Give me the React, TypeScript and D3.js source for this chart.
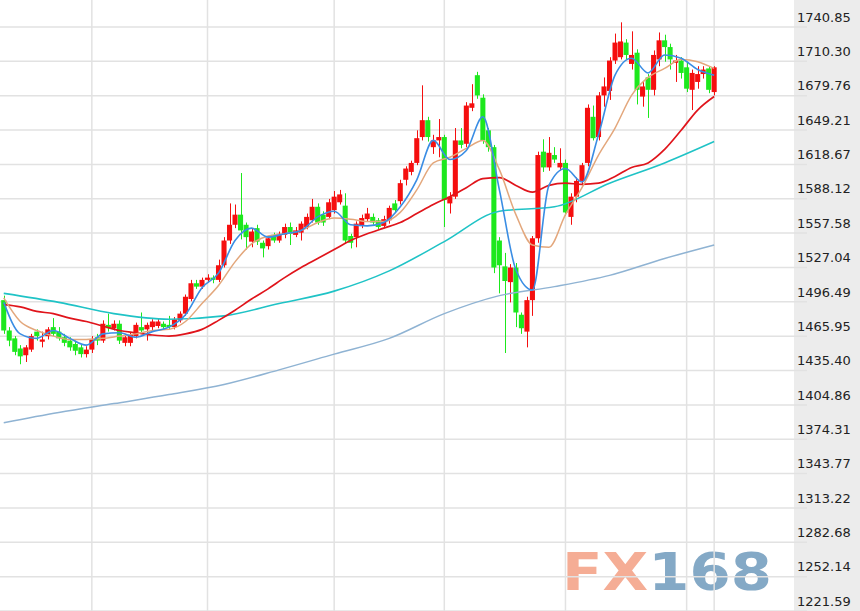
import { useEffect, useRef } from "react"
import * as d3 from "d3"

const W = 860
const H = 611

// right axis tick labels (top to bottom)
const tickLabels = [
  "1740.85", "1710.30", "1679.76", "1649.21", "1618.67", "1588.12", "1557.58", "1527.04", "1496.49",
  "1465.95", "1435.40", "1404.86", "1374.31", "1343.77", "1313.22", "1282.68", "1252.14", "1221.59",
]

// daily candles, oldest first
const opens = [
  1498, 1471, 1464, 1455, 1449, 1454, 1470, 1461, 1466, 1474,
  1470, 1465, 1462, 1459, 1456, 1450, 1454, 1465, 1462, 1476,
  1473, 1477, 1460, 1460, 1466, 1474, 1472, 1474, 1475, 1477,
  1476, 1474, 1480, 1486, 1499, 1513, 1510, 1516, 1518, 1516,
  1529, 1551, 1565, 1574, 1565, 1550, 1562, 1549, 1546, 1556,
  1551, 1556, 1563, 1556, 1558, 1563, 1569, 1581, 1574, 1572,
  1578, 1585, 1582, 1555, 1554, 1564, 1570, 1572, 1569, 1564,
  1569, 1584, 1586, 1605, 1612, 1620, 1643, 1658, 1634, 1640,
  1643, 1584, 1590, 1640, 1637, 1669, 1698, 1678, 1649, 1634,
  1551, 1528, 1514, 1527, 1485, 1470, 1498, 1553, 1630, 1616,
  1627, 1616, 1620, 1572, 1590, 1604, 1620, 1661, 1643, 1680,
  1684, 1711, 1714, 1727, 1708, 1718, 1679, 1696, 1685, 1712,
  1729, 1723, 1709, 1711, 1705, 1685, 1692, 1699, 1704, 1683,
]
const highs = [
  1502, 1474, 1466, 1458, 1458, 1468, 1472, 1470, 1474, 1482,
  1474, 1468, 1465, 1462, 1459, 1457, 1466, 1468, 1480, 1486,
  1480, 1480, 1468, 1469, 1478, 1487, 1478, 1481, 1482, 1479,
  1484, 1483, 1488, 1503, 1516, 1516, 1518, 1521, 1520, 1534,
  1554, 1584, 1583, 1611, 1567, 1562, 1565, 1551, 1555, 1558,
  1559, 1566, 1567, 1563, 1568, 1575, 1588, 1584, 1577, 1588,
  1595, 1596, 1593, 1557, 1568, 1574, 1580, 1575, 1571, 1573,
  1582, 1587, 1605, 1617, 1622, 1649, 1689, 1661, 1645, 1659,
  1645, 1594, 1651, 1651, 1674, 1690, 1701, 1681, 1651, 1636,
  1554, 1540, 1530, 1531, 1487, 1501, 1555, 1630, 1641, 1643,
  1634, 1633, 1623, 1593, 1607, 1620, 1672, 1671, 1683, 1696,
  1714, 1735, 1745, 1730, 1737, 1721, 1692, 1699, 1720, 1736,
  1734, 1726, 1716, 1714, 1710, 1703, 1706, 1706, 1706, 1706,
]
const lows = [
  1468, 1457, 1449, 1441, 1443, 1452, 1462, 1456, 1463, 1466,
  1462, 1457, 1453, 1449, 1447, 1447, 1451, 1458, 1460, 1470,
  1471, 1459, 1457, 1457, 1464, 1469, 1462, 1471, 1473, 1472,
  1472, 1472, 1478, 1484, 1497, 1508, 1508, 1514, 1513, 1514,
  1527, 1548, 1562, 1552, 1543, 1545, 1547, 1536, 1543, 1549,
  1549, 1553, 1547, 1554, 1551, 1561, 1567, 1565, 1564, 1570,
  1575, 1583, 1548, 1544, 1545, 1562, 1568, 1565, 1561, 1562,
  1566, 1576, 1583, 1600, 1609, 1618, 1640, 1639, 1628, 1625,
  1563, 1575, 1588, 1633, 1634, 1666, 1677, 1637, 1630, 1522,
  1504, 1451, 1496, 1474, 1468, 1456, 1484, 1549, 1612, 1613,
  1620, 1613, 1573, 1565, 1585, 1600, 1617, 1640, 1640, 1670,
  1676, 1708, 1712, 1712, 1703, 1672, 1670, 1660, 1680, 1706,
  1710, 1703, 1692, 1695, 1683, 1667, 1686, 1695, 1682, 1680,
]
const closes = [
  1471, 1462, 1452, 1448, 1456, 1466, 1466, 1463, 1472, 1468,
  1464, 1460, 1456, 1453, 1450, 1454, 1463, 1462, 1477, 1473,
  1477, 1462, 1465, 1467, 1476, 1471, 1476, 1479, 1479, 1474,
  1474, 1481, 1486, 1501, 1513, 1510, 1516, 1518, 1516, 1529,
  1551, 1565, 1574, 1560, 1554, 1559, 1550, 1544, 1553, 1551,
  1557, 1563, 1557, 1560, 1566, 1572, 1581, 1567, 1567, 1585,
  1590, 1592, 1551, 1549, 1566, 1571, 1575, 1567, 1563, 1570,
  1580, 1578, 1602, 1615, 1620, 1642, 1658, 1643, 1640, 1643,
  1587, 1590, 1640, 1636, 1671, 1673, 1680, 1640, 1634, 1527,
  1529, 1515, 1527, 1487, 1473, 1498, 1553, 1627, 1616, 1629,
  1623, 1620, 1576, 1590, 1604, 1618, 1669, 1642, 1680, 1688,
  1711, 1727, 1728, 1716, 1716, 1685, 1688, 1685, 1716, 1729,
  1723, 1712, 1711, 1700, 1686, 1700, 1699, 1703, 1685, 1705,
]

// moving averages, one value every 3 candles
const maShortStep = 3
const ma5 = [
  1496, 1468, 1464, 1471, 1464, 1458, 1468, 1469, 1465, 1470, 1474, 1485, 1509, 1522, 1551,
  1562, 1554, 1557, 1560, 1572, 1577, 1565, 1564, 1567, 1581, 1605, 1640, 1623, 1631, 1661,
  1596, 1525, 1507, 1600, 1615, 1603, 1645, 1698, 1713, 1700, 1716, 1713, 1703, 1698,
]
const ma10 = [
  1500, 1479, 1471, 1466, 1463, 1463, 1464, 1466, 1468, 1471, 1472, 1479, 1495, 1511, 1532,
  1548, 1555, 1557, 1560, 1567, 1571, 1570, 1568, 1568, 1576, 1596, 1620, 1625, 1633, 1640,
  1614, 1574, 1547, 1545, 1574, 1598, 1627, 1651, 1680, 1696, 1704, 1712, 1710, 1704,
]
const ma20 = [
  1494, 1492, 1488, 1486, 1482, 1479, 1475, 1471, 1469, 1467, 1466, 1468, 1472, 1480, 1489,
  1499, 1508, 1518, 1527, 1535, 1543, 1551, 1557, 1562, 1567, 1575, 1583, 1590, 1598, 1606,
  1607, 1600, 1594, 1600, 1602, 1601, 1602, 1608, 1616, 1620, 1632, 1649, 1667, 1679,
]
// slower averages, read at these candle indices
const maLongIdx = [0, 10, 20, 30, 40, 50, 60, 70, 80, 90, 100, 110, 120, 129]
const ma60 = [1504, 1496, 1486, 1481, 1484, 1495, 1506, 1524, 1550, 1577, 1581, 1602, 1620, 1639]
const ma120 = [1389, 1398, 1406, 1414, 1423, 1436, 1450, 1464, 1486, 1502, 1510, 1520, 1535, 1547]

// candle indices where the vertical grid lines fall (month starts)
const gridIdx = [16, 37, 60, 80, 102, 124, 129]

const UP = "#f50f0f"
const DOWN = "#1de81d"

export default function App() {
  const svgRef = useRef<SVGSVGElement>(null)

  useEffect(() => {
    document.body.style.margin = "0"
    const svg = d3.select(svgRef.current)
    svg.selectAll("*").remove()

    const plotRight = 794
    const ticks = tickLabels.map(Number)

    const x = d3
      .scaleBand<number>()
      .domain(d3.range(closes.length))
      .range([1.2, 716.7])
      .paddingInner(0.08)
    const cx = (i: number) => x(i)! + x.bandwidth() / 2

    const y = d3
      .scaleLinear()
      .domain([d3.min(ticks)!, d3.max(ticks)!])
      .range([H, 27])

    svg.append("rect").attr("width", W).attr("height", H).attr("fill", "#fff")

    // watermark, wide and squat
    const wm = svg
      .append("text")
      .attr("x", 562)
      .attr("y", 590)
      .attr("font-family", "'DejaVu Sans', Verdana, sans-serif")
      .attr("font-weight", "bold")
      .attr("font-size", 51)
      .attr("textLength", 210)
      .attr("lengthAdjust", "spacingAndGlyphs")
    wm.append("tspan").attr("fill", "#f5ad95").text("FX")
    wm.append("tspan").attr("fill", "#84a9c6").text("168")

    // axis panel
    svg
      .append("rect")
      .attr("x", plotRight)
      .attr("y", 0)
      .attr("width", W - plotRight)
      .attr("height", H)
      .attr("fill", "#ececec")

    // grid
    const grid = svg.append("g").attr("stroke", "#e2e2e2").attr("stroke-width", 1.5)
    grid
      .selectAll("line.h")
      .data(ticks)
      .enter()
      .append("line")
      .attr("x1", 0)
      .attr("x2", 807)
      .attr("y1", d => y(d))
      .attr("y2", d => y(d))
    grid
      .selectAll("line.v")
      .data(gridIdx)
      .enter()
      .append("line")
      .attr("x1", d => cx(d))
      .attr("x2", d => cx(d))
      .attr("y1", 0)
      .attr("y2", H)

    // y labels sit just above their grid line
    svg
      .append("g")
      .selectAll("text")
      .data(tickLabels)
      .enter()
      .append("text")
      .attr("x", 797)
      .attr("y", d => y(+d) - 5.3)
      .attr("font-family", "'DejaVu Sans', Verdana, sans-serif")
      .attr("font-size", 13)
      .attr("fill", "#222")
      .text(d => d)

    // candles
    const candles = svg
      .append("g")
      .selectAll("g")
      .data(d3.range(closes.length))
      .enter()
      .append("g")
      .attr("fill", i => (closes[i] >= opens[i] ? UP : DOWN))
      .attr("stroke", i => (closes[i] >= opens[i] ? UP : DOWN))

    candles
      .append("line")
      .attr("x1", i => Math.round(cx(i)) + 0.5)
      .attr("x2", i => Math.round(cx(i)) + 0.5)
      .attr("y1", i => y(highs[i]))
      .attr("y2", i => y(lows[i]))
      .attr("stroke-width", 1)

    candles
      .append("rect")
      .attr("stroke", "none")
      .attr("x", i => x(i)!)
      .attr("width", x.bandwidth())
      .attr("y", i => y(Math.max(opens[i], closes[i])))
      .attr("height", i => Math.max(1, Math.abs(y(opens[i]) - y(closes[i]))))

    // moving averages
    const line = d3
      .line<[number, number]>()
      .x(d => cx(d[0]))
      .y(d => y(d[1]))
      .curve(d3.curveMonotoneX)

    const series: { pts: [number, number][]; color: string; w: number }[] = [
      { pts: ma120.map((v, k) => [maLongIdx[k], v]), color: "#8fb3d3", w: 1.5 },
      { pts: ma60.map((v, k) => [maLongIdx[k], v]), color: "#1fc3c6", w: 1.6 },
      { pts: ma20.map((v, k) => [k * maShortStep, v]), color: "#e0141b", w: 1.7 },
      { pts: ma10.map((v, k) => [k * maShortStep, v]), color: "#e3a77c", w: 1.5 },
      { pts: ma5.map((v, k) => [k * maShortStep, v]), color: "#3a8de4", w: 1.6 },
    ]

    svg
      .append("g")
      .selectAll("path")
      .data(series)
      .enter()
      .append("path")
      .attr("d", d => line(d.pts))
      .attr("fill", "none")
      .attr("stroke", d => d.color)
      .attr("stroke-width", d => d.w)
  }, [])

  return <svg ref={svgRef} width={W} height={H} style={{ display: "block" }} />
}
